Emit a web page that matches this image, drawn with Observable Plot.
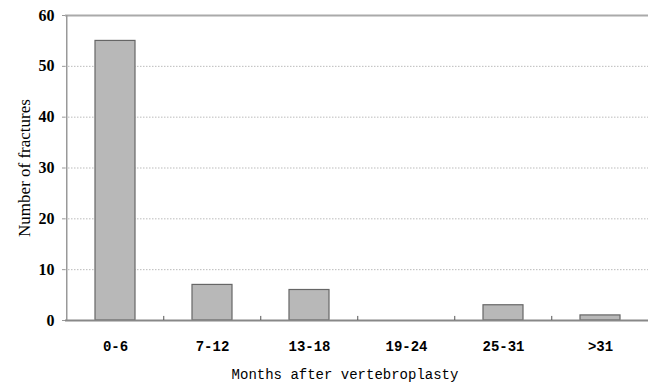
<!DOCTYPE html>
<html>
<head>
<meta charset="utf-8">
<script src="https://cdn.jsdelivr.net/npm/d3@7"></script>
<script src="https://cdn.jsdelivr.net/npm/@observablehq/plot@0.6"></script>
<style>
  html, body { margin: 0; padding: 0; background: #fff; }
  #chart svg { display: block; }
</style>
</head>
<body>
<div id="chart"></div>
<script>
const categories = ["0-6", "7-12", "13-18", "19-24", "25-31", ">31"];
const fractures = [55, 7, 6, 0, 3, 1];
const yTicks = [0, 10, 20, 30, 40, 50, 60];
const gridTicks = [10, 20, 30, 40, 50];
const xLabel = "Months after vertebroplasty";
const yLabel = "Number of fractures";

const data = categories.map((c, i) => ({month: c, count: fractures[i]}));
const step = (650 - 65) / categories.length;

const chart = Plot.plot({
  width: 648,
  height: 385,
  marginLeft: 65,
  marginRight: 0,
  marginTop: 15,
  marginBottom: 65,
  style: {background: "#fff", color: "#000"},
  x: {domain: categories, range: [65, 650], paddingInner: 0.59, paddingOuter: 0.295},
  y: {domain: [0, 60], range: [320, 15]},
  marks: [
    Plot.ruleY(gridTicks, {stroke: "#bbb", strokeWidth: 1, strokeDasharray: "1.5,1.5"}),
    Plot.barY(data, {x: "month", y: "count", fill: "#b8b8b8", stroke: "#666", strokeWidth: 1.2}),
    Plot.ruleY([60], {stroke: "#aaa", strokeWidth: 2}),
    Plot.ruleX([categories[0]], {x: d => d, dx: -step / 2, stroke: "#999", strokeWidth: 1.5}),
    Plot.ruleY([0], {stroke: "#888", strokeWidth: 2}),
    Plot.ruleX(categories.slice(1), {x: d => d, y1: 0, y2: 0.8, dx: -step / 2, stroke: "#555", strokeWidth: 1}),
    Plot.axisY({
      ticks: yTicks, tickSize: 3, tickPadding: 8, stroke: "#999",
      label: null
    }),
    Plot.axisY({
      ticks: [], tickSize: 0,
      label: yLabel, labelAnchor: "center", labelArrow: "none", labelOffset: 48
    }),
    Plot.axisX({
      tickSize: 0, tickPadding: 21,
      label: null
    }),
    Plot.text([xLabel], {frameAnchor: "bottom", dy: 58, dx: -12, fontFamily: "Liberation Mono", fontSize: 14, fill: "#000"})
  ]
});

function styleGroup(label, family, size, weight) {
  chart.querySelectorAll(`g[aria-label='${label}']`).forEach(g => {
    g.setAttribute("font-family", family);
    g.setAttribute("font-size", size);
    g.setAttribute("font-weight", weight);
    g.querySelectorAll("text").forEach(t => {
      t.style.fontFamily = family;
      t.style.fontSize = size + "px";
      t.style.fontWeight = weight;
    });
  });
}
styleGroup("y-axis tick label", "Liberation Serif", 16, "bold");
styleGroup("y-axis label", "Liberation Serif", 17, "normal");
styleGroup("x-axis tick label", "Liberation Mono", 14, "bold");
document.getElementById("chart").appendChild(chart);
</script>
</body>
</html>
